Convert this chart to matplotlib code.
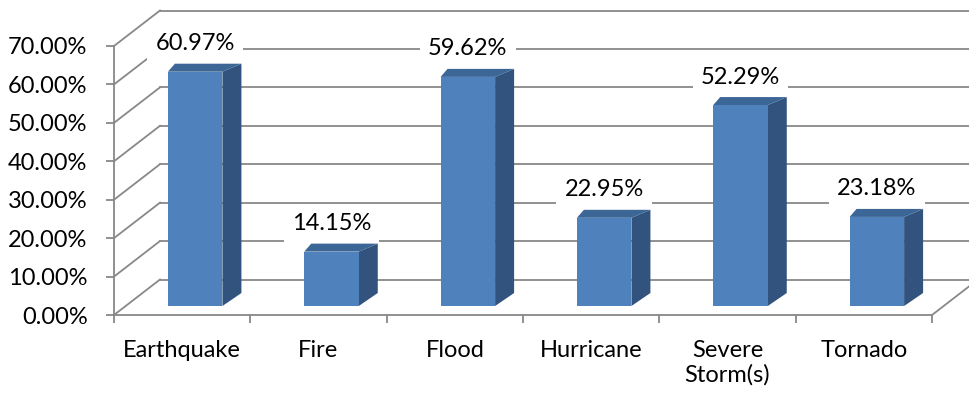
import matplotlib.pyplot as plt
from matplotlib.patches import Polygon

plt.rcParams['font.family'] = ['Lato', 'DejaVu Sans']

categories = ['Earthquake', 'Fire', 'Flood', 'Hurricane', 'Severe\nStorm(s)', 'Tornado']
values = [60.97, 14.15, 59.62, 22.95, 52.29, 23.18]
yticks = [0, 10, 20, 30, 40, 50, 60, 70]

front = '#4F81BD'
top_c = '#3C6696'
side_c = '#31537E'
grid_c = '#888888'

W, H = 969, 396
fig = plt.figure(figsize=(W / 100, H / 100), dpi=100)
# front plane of the 3d box: x 114..932 px, y 315..46 px
ax = fig.add_axes([114 / W, 81 / H, 818 / W, 269 / H])
ax.set_xlim(0, 6)
ax.set_ylim(0, 70)

# pixel -> data helpers
px_x = 6 / 818
px_y = 70 / 269

# wall depth
ox, oy = 46 * px_x, 35.5 * px_y

# left wall diagonals and back wall gridlines
for v in yticks:
    ax.plot([0, ox], [v, v + oy], color=grid_c, lw=1.3, clip_on=False, zorder=1)
    ax.plot([ox, 6 + ox], [v + oy, v + oy], color=grid_c, lw=1.3, clip_on=False, zorder=1)
# right edge of the floor
ax.plot([6, 6 + ox], [0, oy], color=grid_c, lw=1.3, clip_on=False, zorder=1)

# bars
bw = 0.4
off_x, off_y = 13 * px_x, 9 * px_y
dxr, dxl = 19 * px_x, 7 * px_x
dyt, dyb = 8 * px_y, 13 * px_y
for i, v in enumerate(values):
    xl = i + (1 - bw) / 2 + off_x
    xr = xl + bw
    b = off_y
    t = off_y + v
    ax.add_patch(Polygon([(xr, b), (xr, t), (xr + dxr, t + dyt), (xr + dxr, b + dyb)],
                         closed=True, facecolor=side_c, edgecolor='none', zorder=3, clip_on=False))
    ax.add_patch(Polygon([(xl, t), (xr, t), (xr + dxr, t + dyt), (xl + dxl, t + dyt)],
                         closed=True, facecolor=top_c, edgecolor='none', zorder=3, clip_on=False))
    ax.add_patch(Polygon([(xl, b), (xr, b), (xr, t), (xl, t)],
                         closed=True, facecolor=front, edgecolor='none', zorder=4, clip_on=False))
    ax.text((xl + xr) / 2, t + 28 * px_y, f'{v:.2f}%', ha='center', va='center',
            fontsize=17, zorder=5, clip_on=False,
            bbox=dict(boxstyle='square,pad=0.35', facecolor='white', edgecolor='none'))

# axes
for s in ['top', 'right']:
    ax.spines[s].set_visible(False)
for s in ['left', 'bottom']:
    ax.spines[s].set_color(grid_c)
    ax.spines[s].set_linewidth(1.3)

ax.set_yticks(yticks)
ax.set_yticklabels([f'{v:.2f}%' for v in yticks])
ax.tick_params(axis='y', length=6, color=grid_c, width=1.3, pad=13, labelsize=17)

ax.set_xticks([i + 0.5 for i in range(len(categories))])
ax.set_xticklabels(categories, linespacing=1.15)
ax.set_xticks(range(len(categories) + 1), minor=True)
ax.tick_params(axis='x', which='major', length=0, pad=18, labelsize=17)
ax.tick_params(axis='x', which='minor', length=6, color=grid_c, width=1.3)

fig.savefig('out.png', dpi=100)
